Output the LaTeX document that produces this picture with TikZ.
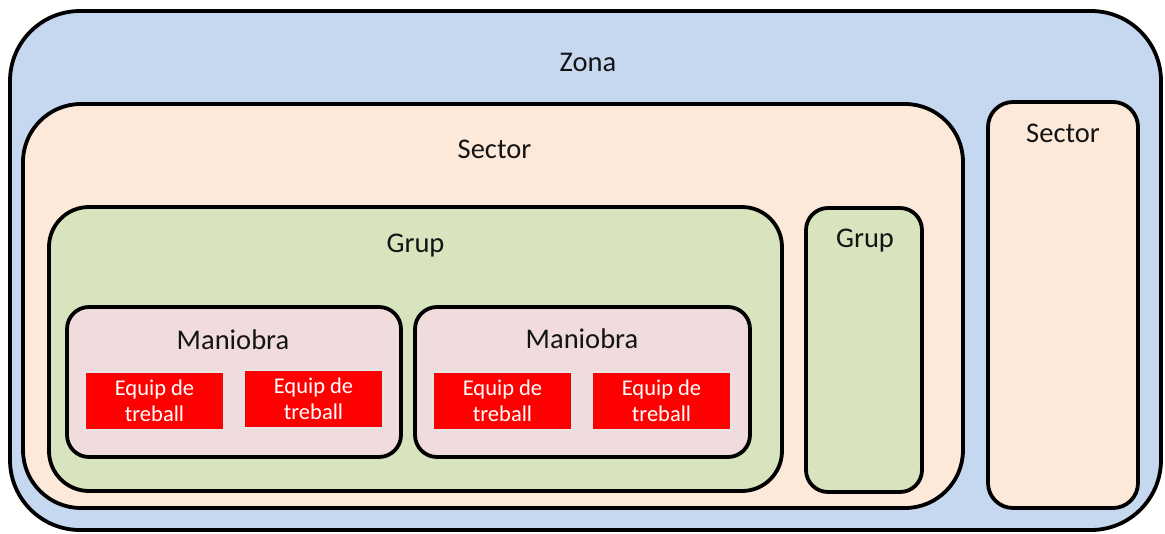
\documentclass[tikz,border=0pt]{standalone}
\usepackage{fontspec}
\setmainfont{Carlito}
\definecolor{zonaC}{RGB}{197,216,240}
\definecolor{sectorC}{RGB}{253,233,218}
\definecolor{grupC}{RGB}{216,228,190}
\definecolor{manC}{RGB}{240,220,221}
\definecolor{eqC}{RGB}{255,0,0}
\definecolor{txtC}{RGB}{20,20,20}
\tikzset{
  box/.style={draw=black, line width=3.8pt, inner sep=0pt, outer sep=0pt},
  eqbox/.style={fill=eqC, draw=black!10, line width=1.2pt, inner sep=0pt,
    minimum width=139pt, minimum height=58pt, align=center, text=white,
    font=\fontsize{22.5}{26.5}\selectfont},
  lbl/.style={anchor=base, inner sep=0pt, text=txtC, font=\fontsize{28.5}{32}\selectfont}
}
\begin{document}
\begin{tikzpicture}[x=1pt,y=-1pt]
\useasboundingbox (0,0) rectangle (1165,533);
\fill[white] (0,0) rectangle (1165,533);
% Zona
\node[box, fill=zonaC, rounded corners=70pt, minimum width=1151pt, minimum height=519pt] (zona) at (585.5,270.5) {};
\node[lbl] (zonaL) at (588,71) {Zona};
% Sectors
\node[box, fill=sectorC, rounded corners=58pt, minimum width=940pt, minimum height=404pt] (sector1) at (493,306) {};
\node[lbl] (sector1L) at (494.5,158) {Sector};
\node[box, fill=sectorC, rounded corners=25pt, minimum width=150pt, minimum height=406pt] (sector2) at (1063,305) {};
\node[lbl] (sector2L) at (1063,142) {Sector};
% Grups
\node[box, fill=grupC, rounded corners=40pt, minimum width=733pt, minimum height=284pt] (grup1) at (415.5,349) {};
\node[lbl] (grup1L) at (415.5,252) {Grup};
\node[box, fill=grupC, rounded corners=22pt, minimum width=116pt, minimum height=284pt] (grup2) at (864,350) {};
\node[lbl] (grup2L) at (865,247) {Grup};
% Maniobres
\node[box, fill=manC, rounded corners=22pt, minimum width=334pt, minimum height=150pt] (man1) at (234,382) {};
\node[lbl] (man1L) at (233,349) {Maniobra};
\node[box, fill=manC, rounded corners=22pt, minimum width=335pt, minimum height=150pt] (man2) at (582.5,382) {};
\node[lbl] (man2L) at (582,348) {Maniobra};
% Equips de treball
\node[eqbox] (eq1) at (154.5,401) {Equip de\\treball};
\node[eqbox] (eq2) at (313.5,399) {Equip de\\treball};
\node[eqbox] (eq3) at (502.5,401) {Equip de\\treball};
\node[eqbox] (eq4) at (661.5,401) {Equip de\\treball};
\end{tikzpicture}
\end{document}
